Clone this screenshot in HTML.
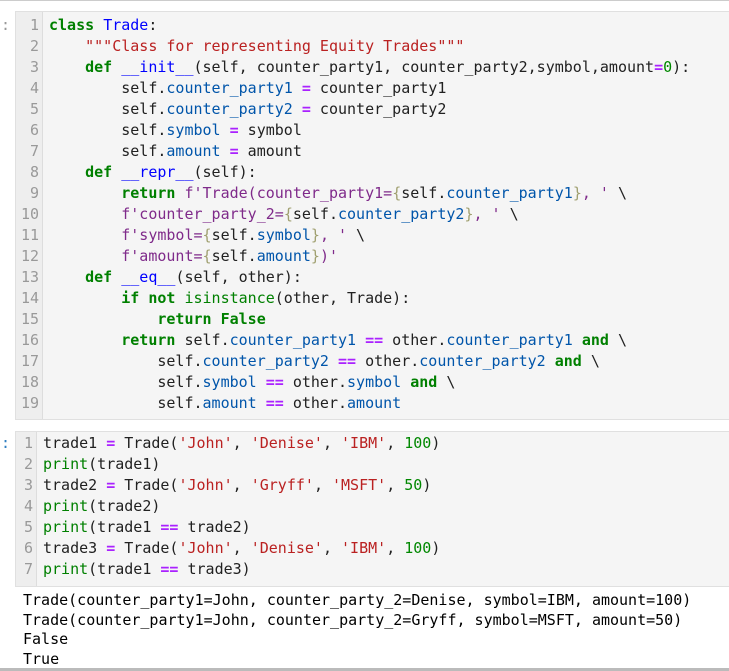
<!DOCTYPE html>
<html><head><meta charset="utf-8"><style>
body{margin:0;width:729px;height:671px;background:#fff;position:relative;overflow:hidden;font-family:"DejaVu Sans Mono","Liberation Mono",monospace;font-size:15px;color:#212121}
.top{position:absolute;left:0;top:0;width:729px;height:1px;background:#ccc}
.bot{position:absolute;left:0;top:668px;width:729px;height:3px;background:#bbb}
.cell{position:absolute;left:15px;right:-2px;background:#f5f5f5;border:1px solid #e0e0e0;border-right:none}
.gut{position:absolute;left:0;top:0;bottom:0;background:#eee;border-right:1px solid #ddd;color:#999}
.ln{position:absolute;right:3px;height:21px;line-height:21px;text-align:right}
.code{position:absolute;white-space:pre;height:21px;line-height:21px}
.pr{position:absolute;left:1px;color:#999;line-height:21px}
.k{color:#008000;font-weight:bold}.c{color:#0000ff}.s{color:#ba2121}.a{color:#0055aa}.o{color:#aa22ff;font-weight:bold}.n{color:#008800}.b{color:#008000}.f{color:#7f2a8a}.br{color:#a0a070}
.out{position:absolute;left:23px;white-space:pre;line-height:19.6px;top:591px;color:#000}
</style></head><body>
<div class="top"></div>
<div class="pr" style="top:15px">:</div>
<div class="cell" style="top:11px;height:407px">
<div class="gut" style="width:26px">
<div class="ln" style="top:3px">1</div><div class="ln" style="top:24px">2</div><div class="ln" style="top:45px">3</div><div class="ln" style="top:66px">4</div><div class="ln" style="top:87px">5</div><div class="ln" style="top:108px">6</div><div class="ln" style="top:129px">7</div><div class="ln" style="top:150px">8</div><div class="ln" style="top:171px">9</div><div class="ln" style="top:192px">10</div><div class="ln" style="top:213px">11</div><div class="ln" style="top:234px">12</div><div class="ln" style="top:255px">13</div><div class="ln" style="top:276px">14</div><div class="ln" style="top:297px">15</div><div class="ln" style="top:318px">16</div><div class="ln" style="top:339px">17</div><div class="ln" style="top:360px">18</div><div class="ln" style="top:381px">19</div>
</div>
<div class="code" style="left:33px;top:3px"><span class="k">class</span> <span class="c">Trade</span>:</div>
<div class="code" style="left:33px;top:24px">    <span class="s">"""Class for representing Equity Trades"""</span></div>
<div class="code" style="left:33px;top:45px">    <span class="k">def</span> <span class="c">__init__</span>(self, counter_party1, counter_party2,symbol,amount<span class="o">=</span><span class="n">0</span>):</div>
<div class="code" style="left:33px;top:66px">        self<span>.</span><span class="a">counter_party1</span> <span class="o">=</span> counter_party1</div>
<div class="code" style="left:33px;top:87px">        self.<span class="a">counter_party2</span> <span class="o">=</span> counter_party2</div>
<div class="code" style="left:33px;top:108px">        self.<span class="a">symbol</span> <span class="o">=</span> symbol</div>
<div class="code" style="left:33px;top:129px">        self.<span class="a">amount</span> <span class="o">=</span> amount</div>
<div class="code" style="left:33px;top:150px">    <span class="k">def</span> <span class="c">__repr__</span>(self):</div>
<div class="code" style="left:33px;top:171px">        <span class="k">return</span> <span class="f">f'Trade(counter_party1=</span><span class="br">{</span>self.<span class="a">counter_party1</span><span class="br">}</span><span class="f">, '</span> \</div>
<div class="code" style="left:33px;top:192px">        <span class="f">f'counter_party_2=</span><span class="br">{</span>self.<span class="a">counter_party2</span><span class="br">}</span><span class="f">, '</span> \</div>
<div class="code" style="left:33px;top:213px">        <span class="f">f'symbol=</span><span class="br">{</span>self.<span class="a">symbol</span><span class="br">}</span><span class="f">, '</span> \</div>
<div class="code" style="left:33px;top:234px">        <span class="f">f'amount=</span><span class="br">{</span>self.<span class="a">amount</span><span class="br">}</span><span class="f">)'</span></div>
<div class="code" style="left:33px;top:255px">    <span class="k">def</span> <span class="c">__eq__</span>(self, other):</div>
<div class="code" style="left:33px;top:276px">        <span class="k">if</span> <span class="k">not</span> <span class="b">isinstance</span>(other, Trade):</div>
<div class="code" style="left:33px;top:297px">            <span class="k">return</span> <span class="k">False</span></div>
<div class="code" style="left:33px;top:318px">        <span class="k">return</span> self.<span class="a">counter_party1</span> <span class="o">==</span> other.<span class="a">counter_party1</span> <span class="k">and</span> \</div>
<div class="code" style="left:33px;top:339px">            self.<span class="a">counter_party2</span> <span class="o">==</span> other.<span class="a">counter_party2</span> <span class="k">and</span> \</div>
<div class="code" style="left:33px;top:360px">            self.<span class="a">symbol</span> <span class="o">==</span> other.<span class="a">symbol</span> <span class="k">and</span> \</div>
<div class="code" style="left:33px;top:381px">            self.<span class="a">amount</span> <span class="o">==</span> other.<span class="a">amount</span></div>
</div>
<div class="pr" style="top:433px;color:#307fc1">:</div>
<div class="cell" style="top:431px;height:154px">
<div class="gut" style="width:20px">
<div class="ln" style="top:1px">1</div><div class="ln" style="top:22px">2</div><div class="ln" style="top:43px">3</div><div class="ln" style="top:64px">4</div><div class="ln" style="top:85px">5</div><div class="ln" style="top:106px">6</div><div class="ln" style="top:127px">7</div>
</div>
<div class="code" style="left:27px;top:1px">trade1 <span class="o">=</span> Trade(<span class="s">'John'</span>, <span class="s">'Denise'</span>, <span class="s">'IBM'</span>, <span class="n">100</span>)</div>
<div class="code" style="left:27px;top:22px"><span class="b">print</span>(trade1)</div>
<div class="code" style="left:27px;top:43px">trade2 <span class="o">=</span> Trade(<span class="s">'John'</span>, <span class="s">'Gryff'</span>, <span class="s">'MSFT'</span>, <span class="n">50</span>)</div>
<div class="code" style="left:27px;top:64px"><span class="b">print</span>(trade2)</div>
<div class="code" style="left:27px;top:85px"><span class="b">print</span>(trade1 <span class="o">==</span> trade2)</div>
<div class="code" style="left:27px;top:106px">trade3 <span class="o">=</span> Trade(<span class="s">'John'</span>, <span class="s">'Denise'</span>, <span class="s">'IBM'</span>, <span class="n">100</span>)</div>
<div class="code" style="left:27px;top:127px"><span class="b">print</span>(trade1 <span class="o">==</span> trade3)</div>
</div>
<div class="out">Trade(counter_party1=John, counter_party_2=Denise, symbol=IBM, amount=100)
Trade(counter_party1=John, counter_party_2=Gryff, symbol=MSFT, amount=50)
False
True</div>
<div class="bot"></div>
</body></html>
